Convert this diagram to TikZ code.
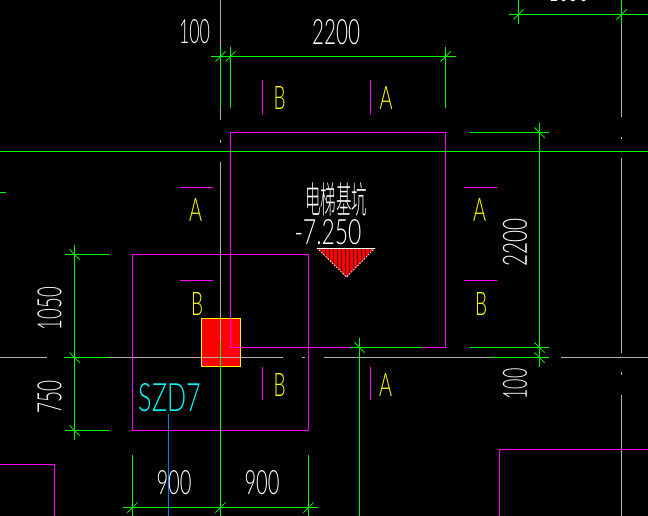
\documentclass[tikz,border=0pt]{standalone}
\usepackage{fontspec}
\usepackage{graphicx}
\setmainfont{Lato Light}
\newfontfamily\cjkfont{Noto Sans CJK SC Light}
\definecolor{cadgreen}{RGB}{0,255,0}
\definecolor{cadgrey}{RGB}{178,178,178}
\definecolor{cadmag}{RGB}{255,0,255}
\definecolor{cadyel}{RGB}{255,255,0}
\definecolor{cadcyan}{RGB}{0,255,255}
\definecolor{cadblue}{RGB}{0,127,255}
\newcommand{\fit}[3]{\resizebox{#1pt}{#2pt}{#3}}
\tikzset{
  gl/.style={cadgreen,line width=1pt},
  gy/.style={cadgrey,line width=1pt},
  mg/.style={cadmag,line width=1pt},
  tickmark/.style={cadgreen,line width=.8pt,dash pattern=on 1.6pt off .5pt},
  label/.style={inner sep=0pt,outer sep=0pt,anchor=center},
  dimtext/.style={label,text=white},
  sectext/.style={label,text=cadyel},
}
\begin{document}
\begin{tikzpicture}[x=1pt,y=-1pt]
\fill[black] (0,0) rectangle (648,516);
\useasboundingbox (0,0) rectangle (648,516);
% grey axes
\draw[gy] (220.5,0)--(220.5,120) (220.5,140)--(220.5,143) (220.5,162)--(220.5,342);
\draw[gy] (621.5,24)--(621.5,117) (621.5,137)--(621.5,139) (621.5,158)--(621.5,353) (621.5,372)--(621.5,375) (621.5,395)--(621.5,516);
\draw[gy] (0,357.5)--(47,357.5) (109,357.5)--(283,357.5) (302,357.5)--(305,357.5) (324,357.5)--(490,357.5) (561,357.5)--(648,357.5);
% magenta outlines
\draw[mg] (132.5,254.5) rectangle (308.5,430.5);
\draw[mg] (0,464.5)--(54.5,464.5)--(54.5,516);
\draw[mg] (499.5,516)--(499.5,449.5)--(648,449.5);
% red column
\draw[cadyel,fill=red,line width=1pt] (201.5,318.5) rectangle (240.5,366.5);
\draw[gy] (220.5,318.5)--(220.5,342) (201.5,357.5)--(240.5,357.5);
\draw[mg] (230.5,347.5)--(230.5,132.5)--(445.5,132.5)--(445.5,347.5)--(422,347.5);
\draw[mg] (350,347.5)--(230.5,347.5);
% green axes and dims
\draw[gl] (0,151.5)--(648,151.5);
\draw[gl] (211,56.5)--(456,56.5);
\draw[gl] (220.5,47)--(220.5,108) (230.5,47)--(230.5,108) (445.5,47)--(445.5,108);
\draw[gl] (509,14.5)--(648,14.5) (518.5,0)--(518.5,24) (621.5,0)--(621.5,24);
\draw[gl] (470,132.5)--(549,132.5) (470,347.5)--(549,347.5) (490,357.5)--(549,357.5);
\draw[gl] (539.5,123)--(539.5,367);
\draw[gl] (350,347.5)--(422,347.5) (359.5,338)--(359.5,516);
\draw[gl] (74.5,245)--(74.5,440) (65,254.5)--(109,254.5) (64,357.5)--(109,357.5) (65,430.5)--(109,430.5);
\draw[gl] (123,507.5)--(318,507.5) (132.5,455)--(132.5,516) (220.5,342)--(220.5,516) (308.5,455)--(308.5,516);
\draw[gl] (0,192.5)--(6,192.5);
% ticks
\foreach \px/\py in {220.5/56.5,230.5/56.5,445.5/56.5,518.5/14.5,621.5/14.5,132.5/507.5,220.5/507.5,308.5/507.5}
  \draw[tickmark] (\px-5,\py+5)--(\px+5,\py-5);
\foreach \px/\py in {539.5/132.5,539.5/347.5,539.5/357.5,359.5/347.5,74.5/254.5,74.5/357.5,74.5/430.5}
  \draw[tickmark] (\px-5,\py-5)--(\px+5,\py+5);
% blue leader
\draw[cadblue,line width=1pt] (168.5,414)--(168.5,516);
% section marks
\draw[mg] (262.5,80)--(262.5,114) (370.5,80)--(370.5,114);
\draw[mg] (262.5,367)--(262.5,400) (370.5,367)--(370.5,400);
\draw[mg] (180,187.5)--(213,187.5) (464,187.5)--(497,187.5);
\draw[mg] (180,280.5)--(213,280.5) (464,280.5)--(497,280.5);
\node[sectext] (b1) at (279.5,98) {\fit{12}{23}{B}};
\node[sectext] (a1) at (386,98) {\fit{13}{23}{A}};
\node[sectext] (a2) at (195.5,210) {\fit{13}{23}{A}};
\node[sectext] (a3) at (479.5,210) {\fit{13}{23}{A}};
\node[sectext] (b2) at (197,303.5) {\fit{12}{23}{B}};
\node[sectext] (b3) at (481,303.5) {\fit{12}{23}{B}};
\node[sectext] (b4) at (279.5,384.5) {\fit{12}{23}{B}};
\node[sectext] (a4) at (385.5,384.5) {\fit{13}{23}{A}};
% level symbol
\fill[red] (317,248)--(375,248)--(346.5,277)--cycle;
\begin{scope}
\clip (317,248)--(375,248)--(346.5,277)--cycle;
\foreach \sx in {321.5,325.5,...,373} \draw[black!70!red,line width=.7pt] (\sx,248)--(\sx,278);
\end{scope}
\draw[white,line width=.8pt,dash pattern=on 1.5pt off 1.5pt] (317,248)--(346.5,277)--(375,248);
\draw[white,line width=1pt] (317,248.5)--(375,248.5);
% texts
\node[dimtext] (pit) at (336,199.5) {\fit{62}{31}{\cjkfont 电梯基坑}};
\node[dimtext] (lvl) at (328,232.5) {\fit{67}{25}{-7.250}};
\node[dimtext] (d100top) at (194.5,32) {\fit{31}{24}{100}};
\node[dimtext] (d2200top) at (336,32.5) {\fit{48}{25}{2200}};
\node[dimtext] (dtopr) at (568.5,-10) {\fit{40}{24}{1050}};
\node[dimtext,rotate=90] (d2200r) at (515,242) {\fit{48}{24}{2200}};
\node[dimtext,rotate=90] (d100r) at (515,384) {\fit{31}{24}{100}};
\node[dimtext,rotate=90] (d1050) at (49.5,308.5) {\fit{43}{24}{1050}};
\node[dimtext,rotate=90] (d750) at (49.5,396.5) {\fit{33}{24}{750}};
\node[dimtext] (d900a) at (174,483) {\fit{35}{24}{900}};
\node[dimtext] (d900b) at (262,483) {\fit{35}{24}{900}};
\node[label,text=cadcyan] (szd) at (170,398) {\fit{62}{28}{SZD7}};
\end{tikzpicture}
\end{document}
